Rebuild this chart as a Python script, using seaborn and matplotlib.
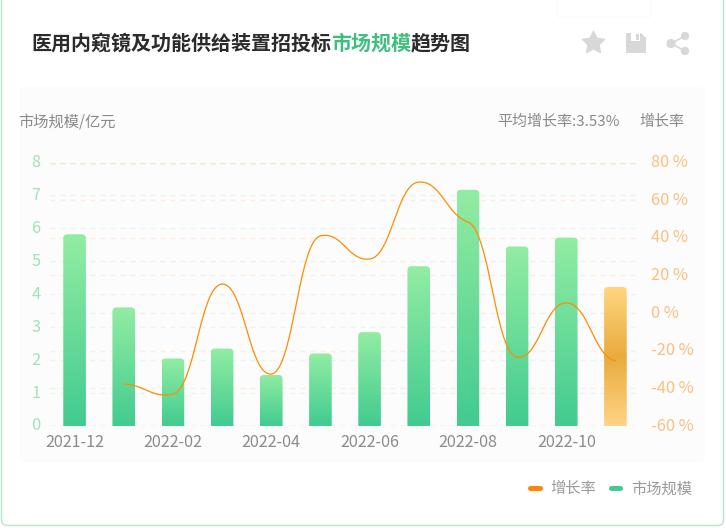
import numpy as np
import pandas as pd
import seaborn as sns
import matplotlib
matplotlib.use("Agg")
import matplotlib.pyplot as plt
from matplotlib.patches import FancyBboxPatch, Polygon, Circle
from matplotlib.lines import Line2D
from matplotlib.colors import LinearSegmentedColormap
from matplotlib.transforms import ScaledTranslation

# ---- data ----
months = ["2021-12", "2022-01", "2022-02", "2022-03", "2022-04", "2022-05",
          "2022-06", "2022-07", "2022-08", "2022-09", "2022-10", "2022-11"]
market_size = [5.82, 3.6, 2.05, 2.35, 1.55, 2.2, 2.85, 4.85, 7.17, 5.45, 5.72, 4.22]
growth_months = months[1:]
growth_rate = [-37.7, -43.0, 15.4, -32.4, 41.0, 28.7, 69.6, 48.4, -23.3, 5.4, -25.5]
left_ticks = [0, 1, 2, 3, 4, 5, 6, 7, 8]
right_ticks = [-60, -40, -20, 0, 20, 40, 60, 80]
shown_months = months[::2]

W, H = 726, 531
sns.set_theme(style="white")
plt.rcParams["font.family"] = ["Noto Sans CJK SC", "DejaVu Sans"]

fig = plt.figure(figsize=(W / 100, H / 100), dpi=100, facecolor="white")
bg = fig.add_axes([0, 0, 1, 1], zorder=0)
bg.set_xlim(0, W); bg.set_ylim(H, 0); bg.axis("off")

# outer card and inner panel
bg.add_patch(FancyBboxPatch((1.5, -20), 722, 545.5, boxstyle="round,pad=0,rounding_size=6",
                            fc="white", ec="#BCE6CE", lw=1.1))
bg.add_patch(FancyBboxPatch((19, 87), 686, 376, boxstyle="round,pad=0,rounding_size=6",
                            fc="#FCFCFC", ec="none"))
# faint tooltip ghost at the top
bg.add_patch(FancyBboxPatch((557, -10), 94, 27, boxstyle="round,pad=0,rounding_size=4",
                            fc="white", ec="#FAFAFA", lw=0.8))

# title
title_parts = [("医用内窥镜及功能供给装置招投标", "#2B2B2B", 31),
               ("市场规模", "#3FBF7F", 331), ("趋势图", "#2B2B2B", 411)]
for s, c, x in title_parts:
    bg.text(x, 43, s, color=c, fontsize=14.4, fontweight="bold", va="center", ha="left")

# toolbar icons
icon = "#D8D8D8"
ang = np.deg2rad(np.arange(0, 360, 36) - 90)
rad = np.where(np.arange(10) % 2 == 0, 11.5, 5.6)
bg.add_patch(Polygon(np.c_[593.5 + rad * np.cos(ang), 43 + rad * np.sin(ang)], fc=icon, ec=icon, lw=1.2, joinstyle="round"))
bg.add_patch(Polygon([(626, 33), (641, 33), (646, 38), (646, 53), (626, 53)], fc=icon, ec="none"))
bg.add_patch(Polygon([(631, 33), (640, 33), (640, 41), (631, 41)], fc="white", ec="none"))
bg.add_patch(Polygon([(636, 34), (639, 34), (639, 40), (636, 40)], fc=icon, ec="none"))
for (cx, cy, r) in [(685, 36, 4.2), (671, 43.5, 4.6), (685, 51, 4.2)]:
    bg.add_patch(Circle((cx, cy), r, fc=icon, ec="none"))
bg.add_line(Line2D([671, 685], [43.5, 36], color=icon, lw=1.2))
bg.add_line(Line2D([671, 685], [43.5, 51], color=icon, lw=1.2))

# axis captions
sub = "#8A8A8A"
bg.text(18, 122, "市场规模/亿元", color=sub, fontsize=11, va="center", ha="left")
bg.text(620, 122, "平均增长率:3.53%", color=sub, fontsize=10.8, va="center", ha="right")
bg.text(684, 122, "增长率", color=sub, fontsize=10.8, va="center", ha="right")

# main axes: x 50..640 px, y 162.5..426 px
ax = fig.add_axes([50 / W, 1 - 426 / H, 590 / W, 263.5 / H], zorder=2)
ax.patch.set_alpha(0)
df = pd.DataFrame({"month": months, "size": market_size})
sns.barplot(data=df, x="month", y="size", ax=ax, width=0.46, color="#42CB90",
            saturation=1, errorbar=None, zorder=3)
ax.set_xlim(-0.5, 11.5)
ax.set_ylim(0, 8)
ax.set_xlabel(""); ax.set_ylabel("")
ax.set_yticks(left_ticks)
ax.set_xticks(range(0, 12, 2), shown_months)
ax.tick_params(axis="y", colors="#9FE3B8", labelsize=11.8, length=0, pad=7)
ax.tick_params(axis="x", colors="#8A8A8A", labelsize=11.6, length=0, pad=6)
for s in ax.spines.values():
    s.set_visible(False)
for v in left_ticks:
    ax.axhline(v, color="#E6F5EE", lw=1, dashes=(3.6, 3.6), zorder=1)

green = LinearSegmentedColormap.from_list("g", ["#92EDA2", "#42CB90"])
amber = LinearSegmentedColormap.from_list("a", ["#FFD67E", "#E9AB3E", "#FFD484"])
grad = np.linspace(0, 1, 200).reshape(-1, 1)
n_bars = len(months)
for i, bar in enumerate(ax.patches[:n_bars]):
    x0, w, h = bar.get_x(), bar.get_width(), bar.get_height()
    bar.set_facecolor("none"); bar.set_edgecolor("none")
    cm = amber if i == n_bars - 1 else green
    im = ax.imshow(grad, cmap=cm, aspect="auto", extent=(x0, x0 + w, 0, h), zorder=3,
                   origin="upper", interpolation="bilinear")
    # rounded top corners in pixel-equivalent data units
    rx, ry = 4 / 49.17, 4 / 32.94
    clip = FancyBboxPatch((x0, -0.3), w, h + 0.3, boxstyle="round,pad=0,rounding_size=1",
                          mutation_aspect=ry / rx, transform=ax.transData,
                          fc="none", ec="none")
    clip.set_boxstyle("round", pad=0, rounding_size=rx)
    ax.add_patch(clip)
    im.set_clip_path(clip)
ax.set_xlim(-0.5, 11.5)
ax.set_ylim(0, 8)

# right axis and smooth growth line
ax2 = ax.twinx()
ax2.patch.set_alpha(0)
ax2.set_ylim(-60, 80)
ax2.set_yticks(right_ticks, [f"{v} %" for v in right_ticks])
ax2.tick_params(axis="y", colors="#FBBF80", labelsize=11.8, length=0, pad=8)
ax2.grid(False)
for s in ax2.spines.values():
    s.set_visible(False)
for v in right_ticks:
    ax.axhline((v + 60) / 140 * 8, color="#FCECDF", lw=1, dashes=(3.6, 3.6), zorder=1)
ax.axhline(0, color="#E6EBCB", lw=1, dashes=(3.6, 3.6), zorder=2)
ax.axhline(8, color="#E6EBCB", lw=1, dashes=(3.6, 3.6), zorder=2)

# nudge value labels up to sit as in the reference
nudge = ScaledTranslation(0, 2 / 100, fig.dpi_scale_trans)
for lab in ax.get_yticklabels() + ax2.get_yticklabels():
    lab.set_transform(lab.get_transform() + nudge)


def smooth_curve(xs, ys, flat=0.2, k=0.45, n=40):
    """Draw-time Bezier smoothing between the read values (the values stay as read)."""
    xs, ys = np.asarray(xs, float), np.asarray(ys, float)
    m = np.gradient(ys, xs) * flat
    out_x, out_y = [], []
    t = np.linspace(0, 1, n)[:, None]
    for i in range(len(xs) - 1):
        d = xs[i + 1] - xs[i]
        p = np.array([[xs[i], ys[i]], [xs[i] + k * d, ys[i] + m[i] * k * d],
                      [xs[i + 1] - k * d, ys[i + 1] - m[i + 1] * k * d], [xs[i + 1], ys[i + 1]]])
        c = (1 - t) ** 3 * p[0] + 3 * (1 - t) ** 2 * t * p[1] + 3 * (1 - t) * t ** 2 * p[2] + t ** 3 * p[3]
        out_x.append(c[:, 0]); out_y.append(c[:, 1])
    return np.concatenate(out_x), np.concatenate(out_y)


pos = [months.index(m) for m in growth_months]
sx, sy = smooth_curve(pos, growth_rate)
sns.lineplot(x=sx, y=sy, ax=ax2, color="#FF8C00", lw=0.9, sort=False, errorbar=None, zorder=5)

# legend
handles = [Line2D([], [], color="#FF8500", lw=3.6, solid_capstyle="round"),
           Line2D([], [], color="#42CB90", lw=3.6, solid_capstyle="round")]
leg = bg.legend(handles, ["增长率", "市场规模"], ncol=2, frameon=False, fontsize=11,
                labelcolor="#9A9A9A", handlelength=0.65, handletextpad=0.69, columnspacing=0.95,
                loc="center right", bbox_to_anchor=(692, 489), bbox_transform=bg.transData,
                borderaxespad=0, borderpad=0)

fig.savefig("out.png", dpi=100, facecolor="white")
